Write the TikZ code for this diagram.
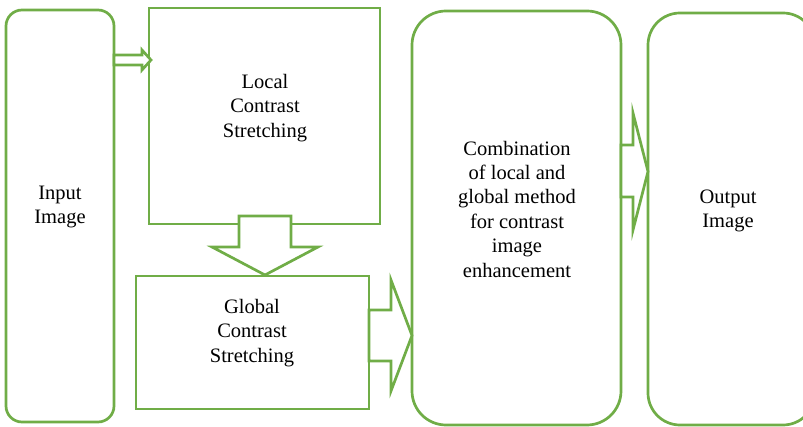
\documentclass[tikz,border=0pt]{standalone}
\usepackage{fontspec}
\setmainfont{Liberation Serif}
\definecolor{grn}{RGB}{112,173,71}
\begin{document}
\begin{tikzpicture}[x=1pt,y=-1pt,
  box/.style={draw=grn,line width=2.7pt},
  blockarrow/.style={draw=grn,fill=white,line width=2.7pt,line join=miter},
  lbl/.style={align=center,font=\fontsize{20.5}{24.4}\selectfont,inner sep=0pt}]
\useasboundingbox (0,0) rectangle (803,427);
\clip (0,0) rectangle (803,427);
% boxes
\draw[box,rounded corners=16pt] (6,10) rectangle (114,422);
\draw[box] (149,8) rectangle (380,224);
\draw[box] (136,276) rectangle (369,409);
\draw[box,rounded corners=34pt] (412,11) rectangle (621,425);
\draw[box,rounded corners=32pt] (648,13) rectangle (815,425);
% block arrows
\draw[blockarrow] (114,55) -- (142,55) -- (142,50) -- (151,60) -- (142,70) -- (142,65) -- (114,65) -- cycle;
\draw[blockarrow] (239,216) -- (291,216) -- (291,247) -- (318,247) -- (265,275) -- (212,247) -- (239,247) -- cycle;
\draw[blockarrow] (369,310) -- (391,310) -- (391,280) -- (412,335.5) -- (391,391) -- (391,361) -- (369,361) -- cycle;
\draw[blockarrow] (621,145) -- (633,145) -- (633,113) -- (648,171.5) -- (633,230) -- (633,197) -- (621,197) -- cycle;
% labels
\node[lbl] (input) at (60,207) {Input\\Image};
\node[lbl] (local) at (265,108) {Local\\Contrast\\Stretching};
\node[lbl] (global) at (252,333) {Global\\Contrast\\Stretching};
\node[lbl] (comb) at (517,209) {Combination\\of local and\\global method\\for contrast\\image\\enhancement};
\node[lbl] (output) at (728,211) {Output\\Image};
\end{tikzpicture}
\end{document}
